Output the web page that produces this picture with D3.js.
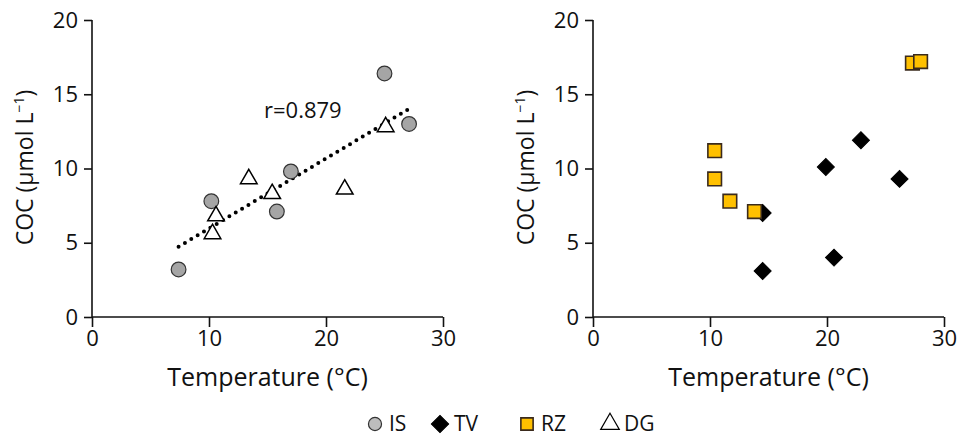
<!DOCTYPE html>
<html>
<head>
<meta charset="utf-8">
<script src="https://cdn.jsdelivr.net/npm/d3@7"></script>
<style>
  html, body { margin: 0; padding: 0; background: #fff; }
  svg { display: block; }
  text { font-family: "Open Sans", "Noto Sans", sans-serif; fill: #111; }
</style>
</head>
<body>
<svg id="chart" width="962" height="438"></svg>
<script>
// Dissolved COC vs. water temperature, two panels
const xTicks = [0, 10, 20, 30];
const yTicks = [0, 5, 10, 15, 20];

// Left panel series
const isTemp = [7.4, 10.2, 15.8, 17.0, 25.0, 27.1];
const isCoc  = [3.2, 7.8, 7.1, 9.8, 16.4, 13.0];
const dgTemp = [10.3, 10.6, 13.4, 15.4, 21.6, 25.1];
const dgCoc  = [5.6, 6.8, 9.3, 8.3, 8.6, 12.8];

// Right panel series
const tvTemp = [14.5, 14.5, 19.9, 20.6, 22.9, 26.2];
const tvCoc  = [7.0, 3.1, 10.1, 4.0, 11.9, 9.3];
const rzTemp = [10.4, 10.4, 11.7, 13.8, 27.3, 28.0];
const rzCoc  = [11.2, 9.3, 7.8, 7.1, 17.1, 17.2];

const rLabel = "r=0.879";
const legendNames = ["IS", "TV", "RZ", "DG"];

const svg = d3.select("#chart");

const styles = {
  IS: { shape: d3.symbolCircle, size: 170, fill: "#a5a5a5", stroke: "#333", sw: 1.2, rot: 0 },
  TV: { shape: d3.symbolSquare, size: 145, fill: "#000", stroke: "#000", sw: 1, rot: 45 },
  RZ: { shape: d3.symbolSquare, size: 185, fill: "#ffc000", stroke: "#3a2a1c", sw: 1.6, rot: 0 },
  DG: { shape: d3.symbolTriangle, size: 120, fill: "#fff", stroke: "#000", sw: 1.5, rot: 0 }
};

function zip(a, b) { return a.map((v, i) => ({ x: v, y: b[i] })); }

function panel(x0, x1, series, withFit) {
  const g = svg.append("g");
  const x = d3.scaleLinear().domain([0, 30]).range([x0, x1]);
  const y = d3.scaleLinear().domain([0, 20]).range([317, 20]);

  const xAxis = g.append("g").attr("transform", `translate(0,${y(0)})`)
    .call(d3.axisBottom(x).tickValues(xTicks).tickSize(10).tickPadding(3));
  const yAxis = g.append("g").attr("transform", `translate(${x(0)},0)`)
    .call(d3.axisLeft(y).tickValues(yTicks).tickSize(8).tickPadding(6));
  [xAxis, yAxis].forEach(a => {
    a.selectAll("line").attr("stroke", "#111").attr("stroke-width", 1.6);
    a.selectAll("text").style("font-size", "22px").attr("fill", "#111");
    a.select(".domain").remove();
  });
  // Plain axis lines without outer end ticks
  g.append("line").attr("x1", x(0)).attr("x2", x(30)).attr("y1", y(0)).attr("y2", y(0))
    .attr("stroke", "#111").attr("stroke-width", 1.6);
  g.append("line").attr("x1", x(0)).attr("x2", x(0)).attr("y1", y(0)).attr("y2", y(20))
    .attr("stroke", "#111").attr("stroke-width", 1.6);

  g.append("text")
    .attr("x", (x0 + x1) / 2).attr("y", 386)
    .attr("text-anchor", "middle").style("font-size", "25px")
    .text("Temperature (°C)");

  const yl = g.append("text")
    .attr("transform", `translate(${x0 - 59},${y(10) - 1}) rotate(-90)`)
    .attr("text-anchor", "middle").style("font-size", "23px");
  yl.append("tspan").text("COC (µmol L");
  yl.append("tspan").attr("dy", -9).style("font-size", "14px").text("−1");
  yl.append("tspan").attr("dy", 9).text(")");

  if (withFit) {
    // Least-squares line through all points of the panel
    const pts = series.flatMap(s => zip(s.xs, s.ys));
    const mx = d3.mean(pts, p => p.x), my = d3.mean(pts, p => p.y);
    const sxy = d3.sum(pts, p => (p.x - mx) * (p.y - my));
    const sxx = d3.sum(pts, p => (p.x - mx) ** 2);
    const b = sxy / sxx, a = my - b * mx;
    const ext = d3.extent(pts, p => p.x);
    g.append("line")
      .attr("x1", x(ext[0])).attr("y1", y(a + b * ext[0]))
      .attr("x2", x(ext[1])).attr("y2", y(a + b * ext[1]))
      .attr("stroke", "#000").attr("stroke-width", 4)
      .attr("stroke-linecap", "round").attr("stroke-dasharray", "0 7.4");
    g.append("text").attr("x", 264).attr("y", 118).style("font-size", "22px").text(rLabel);
  }

  series.forEach(s => {
    const st = styles[s.name];
    g.append("g").selectAll("path").data(zip(s.xs, s.ys)).join("path")
      .attr("transform", d => `translate(${x(d.x)},${y(d.y)}) rotate(${st.rot})`)
      .attr("d", d3.symbol(st.shape, st.size)())
      .attr("fill", st.fill).attr("stroke", st.stroke).attr("stroke-width", st.sw);
  });
}

panel(92, 443, [
  { name: "IS", xs: isTemp, ys: isCoc },
  { name: "DG", xs: dgTemp, ys: dgCoc }
], true);

panel(593, 944, [
  { name: "TV", xs: tvTemp, ys: tvCoc },
  { name: "RZ", xs: rzTemp, ys: rzCoc }
], false);

// Legend
const legendX = [375, 440, 527, 610];
const legendSize = { IS: 135, TV: 150, RZ: 150, DG: 150 };
const lg = svg.append("g");
legendNames.forEach((n, i) => {
  const st = styles[n];
  lg.append("path")
    .attr("transform", `translate(${legendX[i]},424) rotate(${st.rot})`)
    .attr("d", d3.symbol(st.shape, legendSize[n])())
    .attr("fill", n === "IS" ? "#bdbdbd" : st.fill)
    .attr("stroke", st.stroke).attr("stroke-width", n === "DG" ? 1.2 : st.sw);
  lg.append("text").attr("x", legendX[i] + 14).attr("y", 431)
    .style("font-size", "21px").text(n);
});
</script>
</body>
</html>
